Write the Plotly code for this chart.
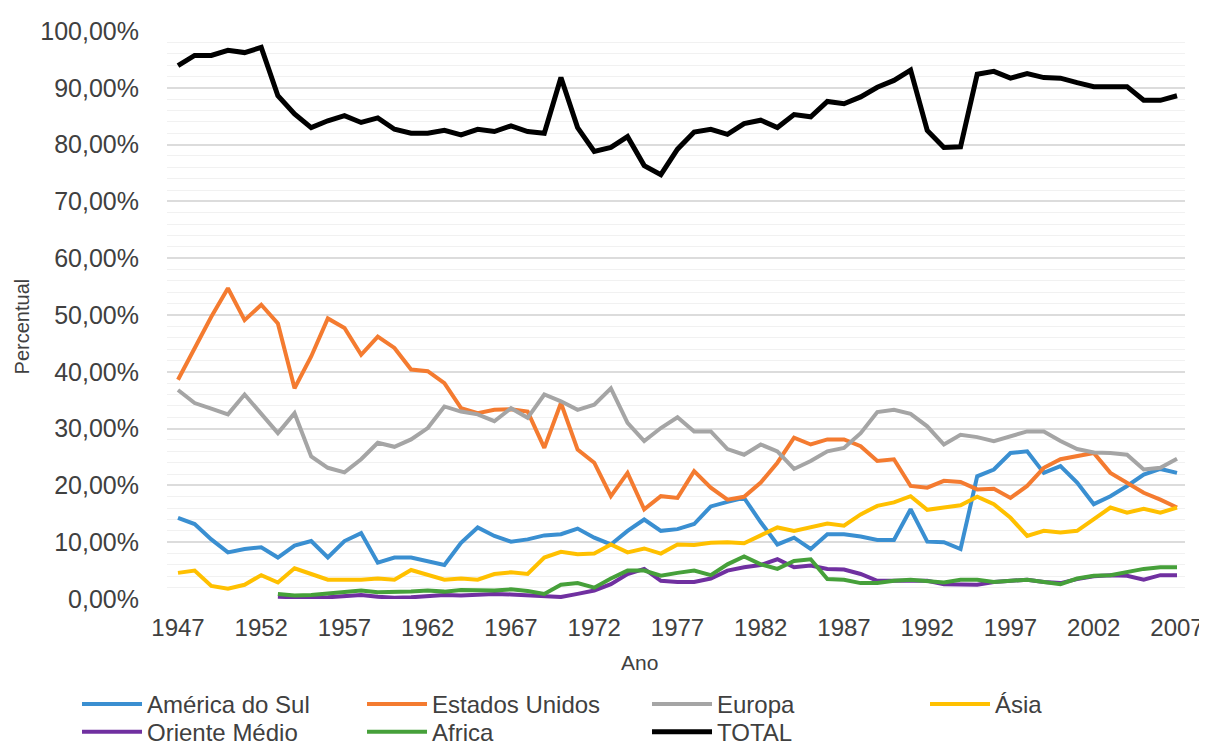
import plotly.graph_objects as go

years = list(range(1947, 2008))

america_sul = [14.3, 13.2, 10.5, 8.2, 8.8, 9.1, 7.3, 9.4, 10.2, 7.3, 10.2, 11.6, 6.4, 7.3, 7.3, 6.7, 6.0, 9.9, 12.6, 11.1, 10.1, 10.5, 11.2,
               11.4, 12.4, 10.8, 9.6, 12.0, 14.0, 12.0, 12.3, 13.2, 16.3, 17.1, 17.8, 13.5, 9.6, 10.8, 8.8, 11.4, 11.4, 11.0, 10.4, 10.4, 15.8, 10.1, 10.0,
               8.8, 21.6, 22.8, 25.7, 26.0, 22.2, 23.4, 20.5, 16.7, 18.1, 19.9, 21.9, 22.9, 22.2]

estados_unidos = [38.6, 44.2, 49.7, 54.7, 49.1, 51.8, 48.5, 37.1, 42.7, 49.4, 47.7, 43.0, 46.2, 44.2, 40.4, 40.1, 38.0, 33.6, 32.7, 33.3, 33.4, 33.0, 26.6,
                  34.5, 26.3, 24.0, 18.1, 22.2, 15.8, 18.1, 17.8, 22.5, 19.6, 17.5, 18.0, 20.5, 24.0, 28.4, 27.2, 28.1, 28.1, 26.9, 24.3, 24.6, 19.9, 19.6, 20.8,
                  20.6, 19.3, 19.4, 17.8, 19.9, 23.1, 24.6, 25.1, 25.7, 22.2, 20.5, 18.7, 17.5, 16.1]

europa = [36.8, 34.5, 33.5, 32.5, 36.0, 32.5, 29.2, 32.7, 25.1, 23.1, 22.3, 24.6, 27.5, 26.8, 28.1, 30.1, 33.9, 33.0, 32.5, 31.3, 33.6, 31.9, 36.0,
          34.8, 33.3, 34.2, 37.1, 31.0, 27.8, 30.1, 32.0, 29.5, 29.5, 26.4, 25.4, 27.2, 26.0, 22.9, 24.3, 26.0, 26.6, 29.2, 32.9, 33.3, 32.6, 30.4, 27.2,
          28.9, 28.5, 27.8, 28.7, 29.5, 29.5, 27.8, 26.4, 25.8, 25.7, 25.4, 22.8, 23.1, 24.7]

asia = [4.6, 5.0, 2.3, 1.8, 2.5, 4.2, 2.9, 5.4, 4.4, 3.4, 3.4, 3.4, 3.6, 3.4, 5.1, 4.2, 3.4, 3.6, 3.4, 4.4, 4.7, 4.4, 7.3,
        8.3, 7.9, 8.0, 9.6, 8.2, 8.9, 8.0, 9.6, 9.5, 9.9, 10.0, 9.8, 11.2, 12.6, 12.0, 12.6, 13.3, 12.9, 14.9, 16.4, 17.0, 18.1, 15.7, 16.1,
        16.5, 18.0, 16.7, 14.3, 11.1, 12.0, 11.7, 12.0, 14.0, 16.1, 15.2, 15.9, 15.2, 16.1]

oriente_medio = [None, None, None, None, None, None,
                 0.4, 0.3, 0.2, 0.3, 0.5, 0.7, 0.4, 0.2, 0.3, 0.5, 0.7, 0.6, 0.8, 0.9, 0.8, 0.7, 0.6,
                 0.35, 0.9, 1.5, 2.6, 4.4, 5.3, 3.2, 3.0, 3.0, 3.6, 5.0, 5.6, 6.0, 7.0, 5.6, 5.9, 5.3, 5.2, 4.4, 3.2, 3.2, 3.2, 3.2, 2.6,
                 2.6, 2.5, 3.0, 3.2, 3.4, 3.0, 2.8, 3.5, 4.0, 4.2, 4.1, 3.4, 4.2, 4.2]

africa = [None, None, None, None, None, None,
          0.9, 0.6, 0.7, 1.0, 1.2, 1.5, 1.2, 1.2, 1.3, 1.5, 1.3, 1.6, 1.5, 1.5, 1.7, 1.4, 0.9,
          2.5, 2.8, 2.0, 3.6, 5.0, 5.0, 4.1, 4.6, 5.0, 4.2, 6.1, 7.5, 6.1, 5.3, 6.7, 7.0, 3.5, 3.4, 2.8, 2.8, 3.2, 3.4, 3.2, 2.9,
          3.4, 3.4, 3.0, 3.2, 3.4, 3.0, 2.6, 3.6, 4.1, 4.2, 4.7, 5.3, 5.6, 5.6]

total = [93.9, 95.7, 95.7, 96.6, 96.2, 97.1, 88.6, 85.4, 83.0, 84.2, 85.1, 83.9, 84.7, 82.7, 82.0, 82.0, 82.5, 81.7, 82.7, 82.3, 83.3, 82.3, 82.0,
         91.8, 83.0, 78.8, 79.5, 81.4, 76.3, 74.7, 79.2, 82.2, 82.7, 81.8, 83.7, 84.3, 83.0, 85.3, 84.9, 87.6, 87.2, 88.4, 90.1, 91.3, 93.1, 82.5, 79.5,
         79.6, 92.4, 92.9, 91.7, 92.5, 91.8, 91.7, 90.9, 90.2, 90.2, 90.2, 87.8, 87.8, 88.6]

x_ticks = list(range(1947, 2008, 5))

series = [
    ("América do Sul", america_sul, "#3a8fd1", 4, "legend"),
    ("Estados Unidos", estados_unidos, "#f47b30", 4, "legend"),
    ("Europa", europa, "#a5a5a5", 4, "legend"),
    ("Ásia", asia, "#ffc000", 4, "legend3"),
    ("Oriente Médio", oriente_medio, "#7030a0", 4, "legend2"),
    ("Africa", africa, "#46a03a", 4, "legend2"),
    ("TOTAL", total, "#000000", 5, "legend2"),
]

fig = go.Figure()
for name, vals, color, width, leg in series:
    fig.add_trace(go.Scatter(
        x=years, y=vals, name=name, mode="lines",
        line=dict(color=color, width=width),
        legend=leg,
    ))

font_family = "Liberation Sans, Arial, sans-serif"
txt_color = "#404040"

legend_common = dict(
    orientation="h",
    xanchor="left",
    yanchor="top",
    x=-0.0884,
    entrywidth=210,
    entrywidthmode="pixels",
    font=dict(family=font_family, size=24, color=txt_color),
    bgcolor="rgba(0,0,0,0)",
    itemwidth=60,
    tracegroupgap=0,
)

fig.update_layout(
    width=1199,
    height=739,
    margin=dict(l=159, r=22, t=23, b=148, autoexpand=False),
    paper_bgcolor="white",
    plot_bgcolor="white",
    separators=",.",
    font=dict(family=font_family, color=txt_color),
    showlegend=True,
    legend=dict(legend_common, y=-0.146),
    legend2=dict(legend_common, y=-0.195),
    legend3=dict(legend_common, y=-0.146, x=0.7446, entrywidth=80),
    xaxis=dict(
        range=[1946.34, 2007.48],
        tickmode="array",
        tickvals=x_ticks,
        ticktext=[str(v) for v in x_ticks],
        showgrid=False,
        zeroline=False,
        showline=False,
        ticks="",
        ticklabelstandoff=12,
        tickfont=dict(family=font_family, size=24, color=txt_color),
    ),
    yaxis=dict(
        range=[0, 100],
        dtick=10,
        tickformat=".2f",
        ticksuffix="%",
        showgrid=True,
        gridcolor="#dcdcdc",
        gridwidth=2,
        zeroline=False,
        showline=False,
        ticks="",
        ticklabelstandoff=27,
        tickfont=dict(family=font_family, size=25, color=txt_color),
        minor=dict(dtick=2, showgrid=True, gridcolor="#f1f1f1", gridwidth=1),
    ),
    annotations=[
        dict(text="Ano", xref="paper", yref="paper", x=0.4646, y=-0.112,
             xanchor="center", yanchor="middle", showarrow=False,
             font=dict(family=font_family, size=21, color=txt_color)),
        dict(text="Percentual", xref="paper", yref="paper", x=-0.1424, y=0.48,
             xanchor="center", yanchor="middle", showarrow=False, textangle=-90,
             font=dict(family=font_family, size=20, color=txt_color)),
    ],
)

fig.write_html("out.html")
